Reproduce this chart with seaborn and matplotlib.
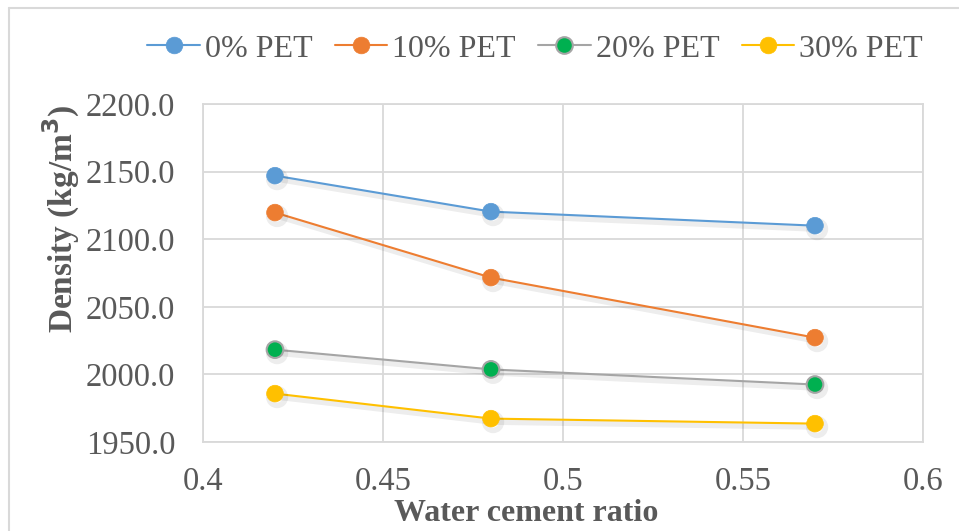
import matplotlib
matplotlib.use("Agg")
import matplotlib.pyplot as plt
import matplotlib.patheffects as pe
from matplotlib.lines import Line2D
import seaborn as sns
import pandas as pd

# Water-cement ratios tested
wc_ratio = [0.42, 0.48, 0.57]

# Density (kg/m3) for each PET replacement level
density_0 = [2147.0, 2120.4, 2110.0]
density_10 = [2119.7, 2071.6, 2027.2]
density_20 = [2018.3, 2003.7, 1992.5]
density_30 = [1985.8, 1967.3, 1963.6]

series_names = ["0% PET", "10% PET", "20% PET", "30% PET"]
line_colors = ["#5B9BD5", "#ED7D31", "#A5A5A5", "#FFC000"]
marker_colors = ["#5B9BD5", "#ED7D31", "#00B050", "#FFC000"]

x_ticks = [0.4, 0.45, 0.5, 0.55, 0.6]
y_ticks = [1950.0, 2000.0, 2050.0, 2100.0, 2150.0, 2200.0]

frames = []
for name, vals in zip(series_names, [density_0, density_10, density_20, density_30]):
    frames.append(pd.DataFrame({"wc": wc_ratio, "density": vals, "mix": name}))
df = pd.concat(frames, ignore_index=True)

sns.set_theme(style="white")
plt.rcParams["font.family"] = ["Liberation Serif", "DejaVu Serif"]

text_col = "#595959"
grid_col = "#D9D9D9"

fig = plt.figure(figsize=(9.59, 5.31), dpi=100)
ax = fig.add_axes([203 / 959, 1 - 442 / 531, (923 - 203) / 959, (442 - 104) / 531])

shadow = [pe.SimpleLineShadow(offset=(1.5, -2.5), shadow_color="black", alpha=0.07, linewidth=4),
          pe.Normal()]


def marker_style(name, lc, mc):
    if name == "20% PET":
        return dict(markerfacecolor=mc, markeredgecolor=lc, markeredgewidth=1.5)
    return dict(markerfacecolor=mc, markeredgecolor=mc, markeredgewidth=0.5)


handles = []
for name, lc, mc in zip(series_names, line_colors, marker_colors):
    sub = df[df["mix"] == name]
    sns.lineplot(data=sub, x="wc", y="density", ax=ax, color=lc, linewidth=1.5,
                 marker="o", markersize=12, path_effects=shadow, zorder=3,
                 **marker_style(name, lc, mc))
    handles.append(Line2D([0], [0], color=lc, linewidth=1.5, marker="o", markersize=12,
                          **marker_style(name, lc, mc)))

ax.set_xlim(0.4, 0.6)
ax.set_ylim(1950, 2200)
ax.set_xticks(x_ticks)
ax.set_xticklabels([f"{v:g}" for v in x_ticks])
ax.set_yticks(y_ticks)
ax.set_yticklabels([f"{v:.1f}" for v in y_ticks])
ax.grid(True, color=grid_col, linewidth=1.3)
ax.set_axisbelow(True)
for s in ax.spines.values():
    s.set_color(grid_col)
    s.set_linewidth(1.3)
ax.tick_params(axis="both", length=0, labelsize=23.5, labelcolor=text_col)
ax.tick_params(axis="x", pad=18)
ax.tick_params(axis="y", pad=20)

ax.set_xlabel("Water cement ratio", fontsize=23, fontweight="bold", color=text_col)
ax.xaxis.set_label_coords(0.449, -0.213)
ax.xaxis.label.set_va("center")
ax.set_ylabel("Density (kg/m$^\\mathbf{3}$)", fontsize=24, fontweight="bold", color=text_col,
              labelpad=10)
ax.yaxis.set_label_coords(-0.168, 0.66)

leg = fig.legend(handles=handles, labels=series_names, loc="center", ncol=4,
                 bbox_to_anchor=(535 / 959, 1 - 49 / 531), frameon=False,
                 fontsize=23, handlelength=1.65, handletextpad=0.15, columnspacing=0.7)
for t in leg.get_texts():
    t.set_color(text_col)

# outer chart border
fig.add_artist(Line2D([8.5 / 959, 8.5 / 959], [0, 1 - 7.5 / 531], transform=fig.transFigure,
                      color="#D9D9D9", linewidth=1.5))
fig.add_artist(Line2D([8.5 / 959, 1], [1 - 7.5 / 531, 1 - 7.5 / 531], transform=fig.transFigure,
                      color="#D9D9D9", linewidth=1.5))

fig.savefig("out.png", dpi=100)
